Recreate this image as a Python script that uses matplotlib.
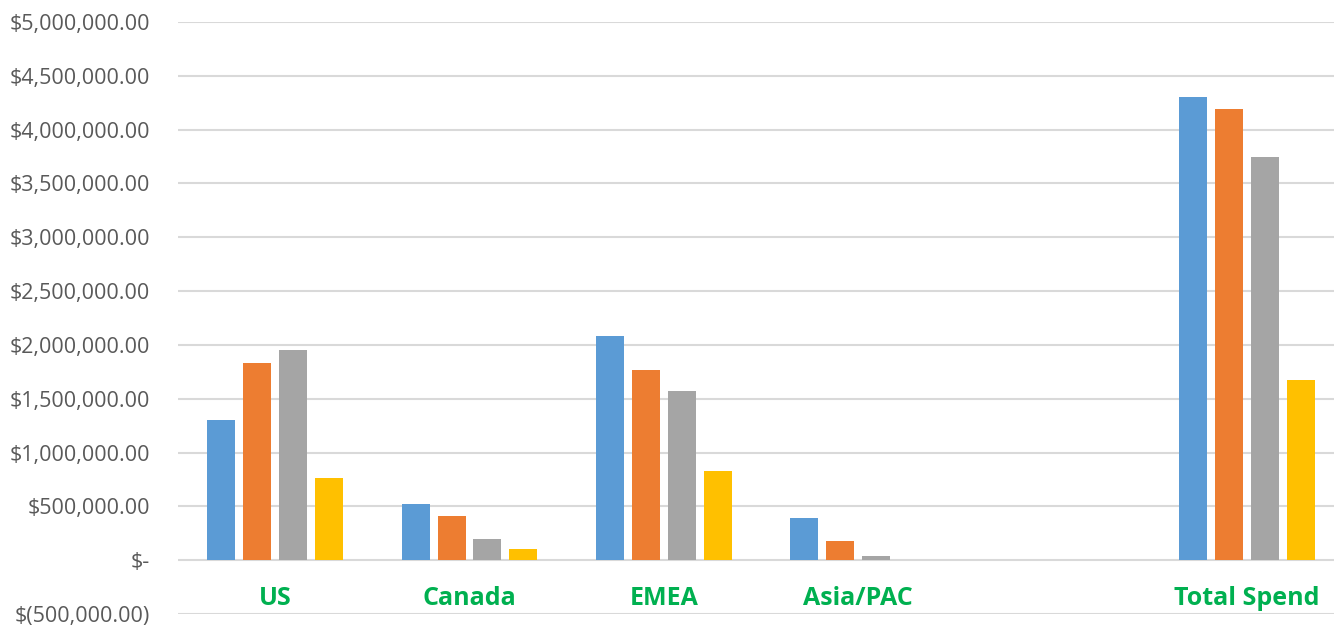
import matplotlib
matplotlib.use("Agg")
import matplotlib.pyplot as plt
import numpy as np

categories = ["US", "Canada", "EMEA", "Asia/PAC", "", "Total Spend"]
series1 = [1300000, 520000, 2080000, 390000, 0, 4300000]
series2 = [1830000, 410000, 1770000, 180000, 0, 4190000]
series3 = [1950000, 200000, 1570000, 40000, 0, 3750000]
series4 = [760000, 100000, 830000, 0, 0, 1670000]
colors = ["#5B9BD5", "#ED7D31", "#A5A5A5", "#FFC000"]
yticks = np.arange(-500000, 5000001, 500000)

def fmt(v):
    if v == 0:
        return "$-"
    if v < 0:
        return "$(" + f"{-v:,.2f}" + ")"
    return "$" + f"{v:,.2f}"

plt.rcParams['font.family'] = ['Open Sans', 'DejaVu Sans']
W, H = 1334, 626
fig = plt.figure(figsize=(W/100, H/100), dpi=100)
left, right, top, bottom = 178, 1344, 22, 614
ax = fig.add_axes([left/W, 1-bottom/H, (right-left)/W, (bottom-top)/H])

x = np.arange(len(categories))
bw = 0.144
step = 0.185
for i, (s, c) in enumerate(zip([series1, series2, series3, series4], colors)):
    ax.bar(x + (i-1.5)*step, s, width=bw, color=c, edgecolor="none", linewidth=0, zorder=3)

ax.set_xlim(-0.5, len(categories)-0.5)
ax.set_ylim(-500000, 5000000)
ax.set_yticks(yticks)
ax.set_yticklabels([fmt(v) for v in yticks], fontsize=15.5, color="#595959")
ax.tick_params(axis='y', length=0, pad=20)
ax.set_xticks([])
ax.grid(axis='y', color="#D9D9D9", linewidth=1.5, zorder=0)
for sp in ax.spines.values():
    sp.set_visible(False)

for xi, lab in zip(x, categories):
    ax.text(xi, -353000, lab, ha='center', va='center', fontsize=18, fontweight='bold', color="#00B050")

fig.savefig("out.png", dpi=100)
